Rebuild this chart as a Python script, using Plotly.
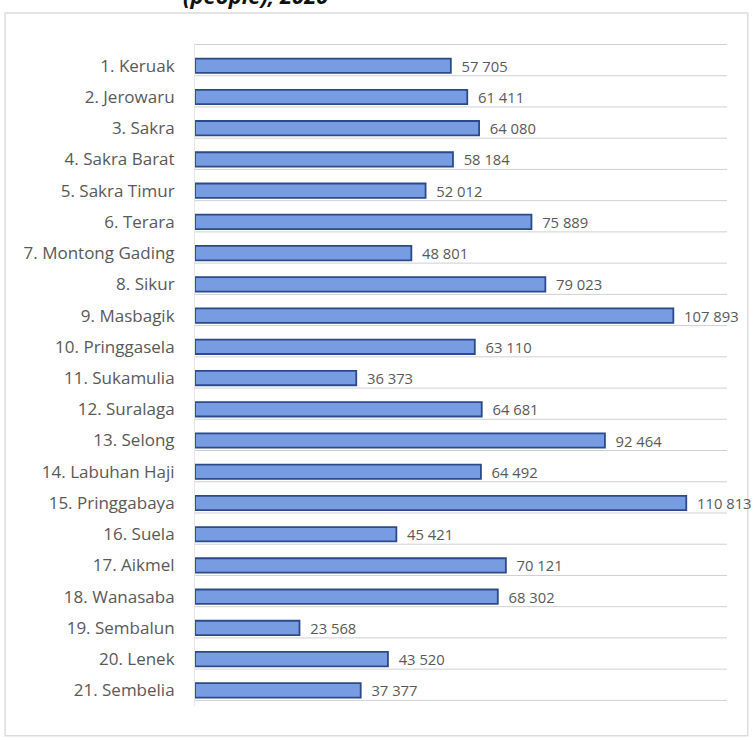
import plotly.graph_objects as go

categories = ["1. Keruak", "2. Jerowaru", "3. Sakra", "4. Sakra Barat", "5. Sakra Timur",
              "6. Terara", "7. Montong Gading", "8. Sikur", "9. Masbagik", "10. Pringgasela",
              "11. Sukamulia", "12. Suralaga", "13. Selong", "14. Labuhan Haji",
              "15. Pringgabaya", "16. Suela", "17. Aikmel", "18. Wanasaba",
              "19. Sembalun", "20. Lenek", "21. Sembelia"]
population = [57705, 61411, 64080, 58184, 52012, 75889, 48801, 79023, 107893, 63110,
              36373, 64681, 92464, 64492, 110813, 45421, 70121, 68302, 23568, 43520, 37377]
title_text = "(people), 2020"

FONT = "Open Sans, sans-serif"

fig = go.Figure()
fig.add_trace(go.Bar(
    x=population, y=categories, orientation="h",
    marker=dict(color="#789ce2", line=dict(color="#2b4a8a", width=1.8)),
    width=0.46,
    texttemplate="\u00a0\u00a0%{x:,}", textposition="outside", constraintext="none",
    textfont=dict(family=FONT, size=14.8, color="#595959"),
    cliponaxis=False,
    hoverinfo="skip",
))

shapes = []
n = len(categories)
for i in range(-1, n):
    shapes.append(dict(type="line", xref="paper", yref="y", x0=0, x1=1,
                       y0=i + 0.32, y1=i + 0.32, line=dict(color="#d0d0d0", width=1),
                       layer="below"))
# outer panel border
shapes.append(dict(type="rect", xref="paper", yref="paper",
                   x0=-0.357, x1=1.039, y0=-0.045, y1=1.047,
                   line=dict(color="#dcdcdc", width=1.5), fillcolor="rgba(0,0,0,0)",
                   layer="below"))

fig.update_layout(
    width=755, height=741,
    margin=dict(l=195, r=28, t=44, b=35),
    paper_bgcolor="white", plot_bgcolor="white",
    separators=". ",
    showlegend=False,
    shapes=shapes,
    xaxis=dict(range=[0, 120000], visible=False, fixedrange=True),
    yaxis=dict(autorange="reversed", showgrid=False, zeroline=False,
               showline=True, linecolor="#e6e6e6", linewidth=1,
               ticks="", ticklabelstandoff=16, fixedrange=True,
               tickfont=dict(family=FONT, size=17, color="#595959")),
    annotations=[dict(text="<b><i>" + title_text + "</i></b>", xref="paper", yref="paper",
                      x=0.113, y=1.048, xanchor="center", yanchor="bottom", showarrow=False,
                      font=dict(family=FONT, size=22, color="#111111"))],
)

fig.write_html("out.html", config={"displayModeBar": False},
               post_script="document.body.style.margin='0';")
